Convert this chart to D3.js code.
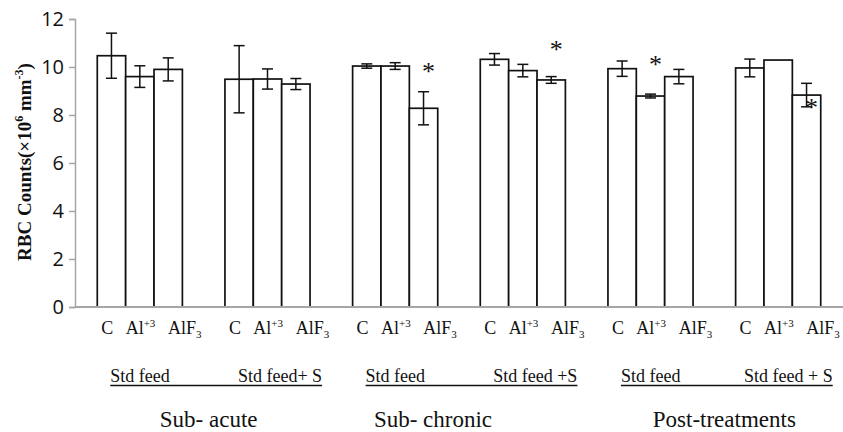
<!DOCTYPE html>
<html>
<head>
<meta charset="utf-8">
<script src="https://cdn.jsdelivr.net/npm/d3@7"></script>
<style>
  body { margin: 0; background: #fff; }
  text { fill: #111; }
</style>
</head>
<body>
<div id="chart"></div>
<script>
// groups along x (period + feed)
var groups = ["SA-std", "SA-S", "SC-std", "SC-S", "PT-std", "PT-S"];
var series = ["C", "Al+3", "AlF3"];
var feedLabels = ["Std feed", "Std feed+ S", "Std feed", "Std feed +S", "Std feed", "Std feed + S"];
var periods = ["Sub- acute", "Sub- chronic", "Post-treatments"];
var yTicks = [0, 2, 4, 6, 8, 10, 12];

var valuesC    = [10.47, 9.49, 10.04, 10.32, 9.93, 9.96];
var valuesAl   = [9.60, 9.50, 10.04, 9.85, 8.79, 10.29];
var valuesAlF3 = [9.90, 9.29, 8.28, 9.46, 9.60, 8.83];
var errC    = [0.94, 1.40, 0.09, 0.24, 0.32, 0.37];
var errAl   = [0.45, 0.42, 0.14, 0.26, 0.08, 0];
var errAlF3 = [0.48, 0.23, 0.69, 0.14, 0.30, 0.49];

// significance stars: group index, series index, level in data units
var stars = [
    { g: 2, s: 2, v: 9.96 },
    { g: 3, s: 2, v: 10.87 },
    { g: 4, s: 1, v: 10.25 },
    { g: 5, s: 2, v: 8.46 }
];

var width = 843, height = 432;
var serif = "'Liberation Serif', 'Times New Roman', serif";

var svg = d3.select("#chart").append("svg")
    .attr("width", width)
    .attr("height", height);

let x = d3.scaleBand()
    .domain(groups)
    .range([76, 842])
    .paddingInner(1 / 3)
    .paddingOuter(1 / 6);
let xs = d3.scaleBand()
    .domain(series)
    .range([0, x.bandwidth()]);
let y = d3.scaleLinear()
    .domain([0, 12])
    .range([307, 19]);

let vals = [valuesC, valuesAl, valuesAlF3];
let errs = [errC, errAl, errAlF3];
let rows = [];
groups.forEach((g, gi) => {
    series.forEach((s, si) => {
        rows.push({ g: g, s: s, v: vals[si][gi], e: errs[si][gi] });
    });
});

// bars
svg.append("g").selectAll("rect").data(rows).enter()
    .append("rect")
    .attr("x", d => x(d.g) + xs(d.s))
    .attr("y", d => y(d.v))
    .attr("width", xs.bandwidth())
    .attr("height", d => y(0) - y(d.v))
    .attr("fill", "#fff")
    .attr("stroke", "#111")
    .attr("stroke-width", 1.7);

// error bars
let eb = svg.append("g").attr("stroke", "#111").attr("stroke-width", 1.5);
rows.filter(d => d.e > 0).forEach(d => {
    let cx = x(d.g) + xs(d.s) + xs.bandwidth() / 2;
    eb.append("line").attr("x1", cx).attr("x2", cx)
        .attr("y1", y(d.v + d.e)).attr("y2", y(d.v - d.e));
    [d.v + d.e, d.v - d.e].forEach(v => {
        eb.append("line").attr("x1", cx - 5.5).attr("x2", cx + 5.5)
            .attr("y1", y(v)).attr("y2", y(v));
    });
});

// y axis
let yAxis = d3.axisLeft(y).tickValues(yTicks).tickSize(6).tickPadding(5);
let yg = svg.append("g")
    .attr("transform", "translate(75,0)")
    .call(yAxis);
yg.select(".domain").attr("stroke", "#a6a6a6").attr("stroke-width", 1.5);
yg.selectAll(".tick line").attr("stroke", "#a6a6a6").attr("stroke-width", 1.5);
yg.selectAll(".tick text")
    .attr("font-family", "'Open Sans', sans-serif")
    .attr("font-size", 20)
    .attr("fill", "#111");

// x axis line
svg.append("line")
    .attr("x1", 75).attr("x2", 843)
    .attr("y1", y(0)).attr("y2", y(0))
    .attr("stroke", "#a6a6a6")
    .attr("stroke-width", 2);

// stars
svg.append("g").selectAll("text").data(stars).enter()
    .append("text")
    .attr("x", d => x(groups[d.g]) + xs(series[d.s]) + xs.bandwidth() / 2 + 5)
    .attr("y", d => y(d.v) + 12)
    .attr("text-anchor", "middle")
    .attr("font-family", serif)
    .attr("font-size", 26)
    .text("*");

// category labels
let cat = svg.append("g")
    .attr("font-family", serif)
    .attr("font-size", 18);
groups.forEach(g => {
    let gx = x(g);
    cat.append("text")
        .attr("x", gx + xs("C") + 4)
        .attr("y", 334)
        .text("C");
    let al = cat.append("text")
        .attr("x", gx + xs("Al+3"))
        .attr("y", 334)
        .text("Al");
    al.append("tspan").attr("font-size", 11).attr("dy", -7).text("+3");
    let af = cat.append("text")
        .attr("x", gx + xs("AlF3") + 14)
        .attr("y", 334)
        .text("AlF");
    af.append("tspan").attr("font-size", 11).attr("dy", 4).text("3");
});

// feed labels with underline per period
let feed = svg.append("g")
    .attr("font-family", serif)
    .attr("font-size", 18);
periods.forEach((p, pi) => {
    let g1 = groups[pi * 2], g2 = groups[pi * 2 + 1];
    let left = x(g1) + 13;
    let right = x(g2) + x.bandwidth() + 12;
    feed.append("text").attr("x", left).attr("y", 382).text(feedLabels[pi * 2]);
    feed.append("text").attr("x", right).attr("y", 382)
        .attr("text-anchor", "end").text(feedLabels[pi * 2 + 1]);
    feed.append("line")
        .attr("x1", left).attr("x2", right)
        .attr("y1", 385.5).attr("y2", 385.5)
        .attr("stroke", "#111").attr("stroke-width", 1.3);
});

// period labels
let periodShift = [5, -26, 10];
svg.append("g").selectAll("text").data(periods).enter()
    .append("text")
    .attr("x", (d, i) => (x(groups[i * 2]) + x(groups[i * 2 + 1]) + x.bandwidth()) / 2 + periodShift[i])
    .attr("y", 427)
    .attr("text-anchor", "middle")
    .attr("font-family", serif)
    .attr("font-size", 23)
    .text(d => d);

// y axis title
let yt = svg.append("text")
    .attr("transform", "translate(31,162) rotate(-90)")
    .attr("text-anchor", "middle")
    .attr("font-family", serif)
    .attr("font-weight", "bold")
    .attr("font-size", 19);
yt.append("tspan").text("RBC Counts(×10");
yt.append("tspan").attr("font-size", 12).attr("dy", -8).text("6");
yt.append("tspan").attr("dy", 8).text(" mm");
yt.append("tspan").attr("font-size", 12).attr("dy", -8).text("-3");
yt.append("tspan").attr("dy", 8).text(")");
</script>
</body>
</html>
